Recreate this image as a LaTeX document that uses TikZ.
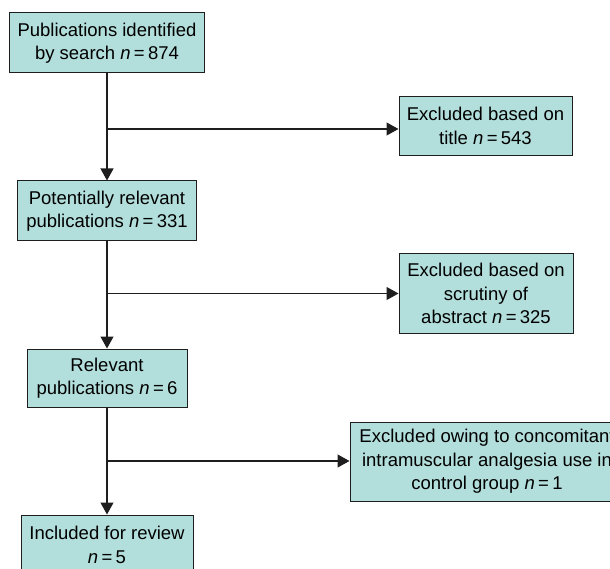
\documentclass[tikz,border=0pt]{standalone}
\usepackage{fontspec}
\setmainfont{Liberation Sans}
\usetikzlibrary{arrows.meta}
\definecolor{boxfill}{RGB}{178,222,219}
\definecolor{boxline}{RGB}{30,30,30}
\newcommand{\nn}[1]{\textit{n}\hspace{0.18em}=\hspace{0.18em}#1}
\begin{document}
\begin{tikzpicture}[x=1pt,y=-1pt,
  box/.style={draw=boxline, line width=1pt, fill=boxfill, rectangle, align=center,
    inner sep=0pt, font=\fontsize{18.5}{23.5}\selectfont},
  conn/.style={draw=boxline, line width=1.2pt},
  arr/.style={conn, -{Triangle[length=12pt,width=13pt]}}]
\useasboundingbox (0,0) rectangle (610,569);
\node[box, minimum width=195pt, minimum height=60pt] (b1) at (107,43) {Publications identified\\by search \nn{874}};
\node[box, minimum width=173pt, minimum height=59pt] (b2) at (485.5,126) {Excluded based on\\title \nn{543}};
\node[box, minimum width=179pt, minimum height=60pt] (b3) at (107,211) {Potentially relevant\\publications \nn{331}};
\node[box, minimum width=174pt, minimum height=79pt] (b4) at (486,293.5) {Excluded based on\\scrutiny of\\abstract \nn{325}};
\node[box, minimum width=160pt, minimum height=58pt] (b5) at (107,378) {Relevant\\publications \nn{6}};
\node[box, minimum width=274pt, minimum height=79pt] (b6) at (487,461.5) {Excluded owing to concomitant\\intramuscular analgesia use in\\control group \nn{1}};
\node[box, minimum width=172pt, minimum height=60pt] (b7) at (107,545) {Included for review\\\nn{5}};
\coordinate (j1) at (107,129);
\coordinate (j2) at (107,293.5);
\coordinate (j3) at (107,461);
\draw[arr] (b1.south) -- (b3.north);
\draw[arr] (j1) -- (j1 -| b2.west);
\draw[arr] (b3.south) -- (b5.north);
\draw[arr] (j2) -- (j2 -| b4.west);
\draw[arr] (b5.south) -- (b7.north);
\draw[arr] (j3) -- (j3 -| b6.west);
\end{tikzpicture}
\end{document}
